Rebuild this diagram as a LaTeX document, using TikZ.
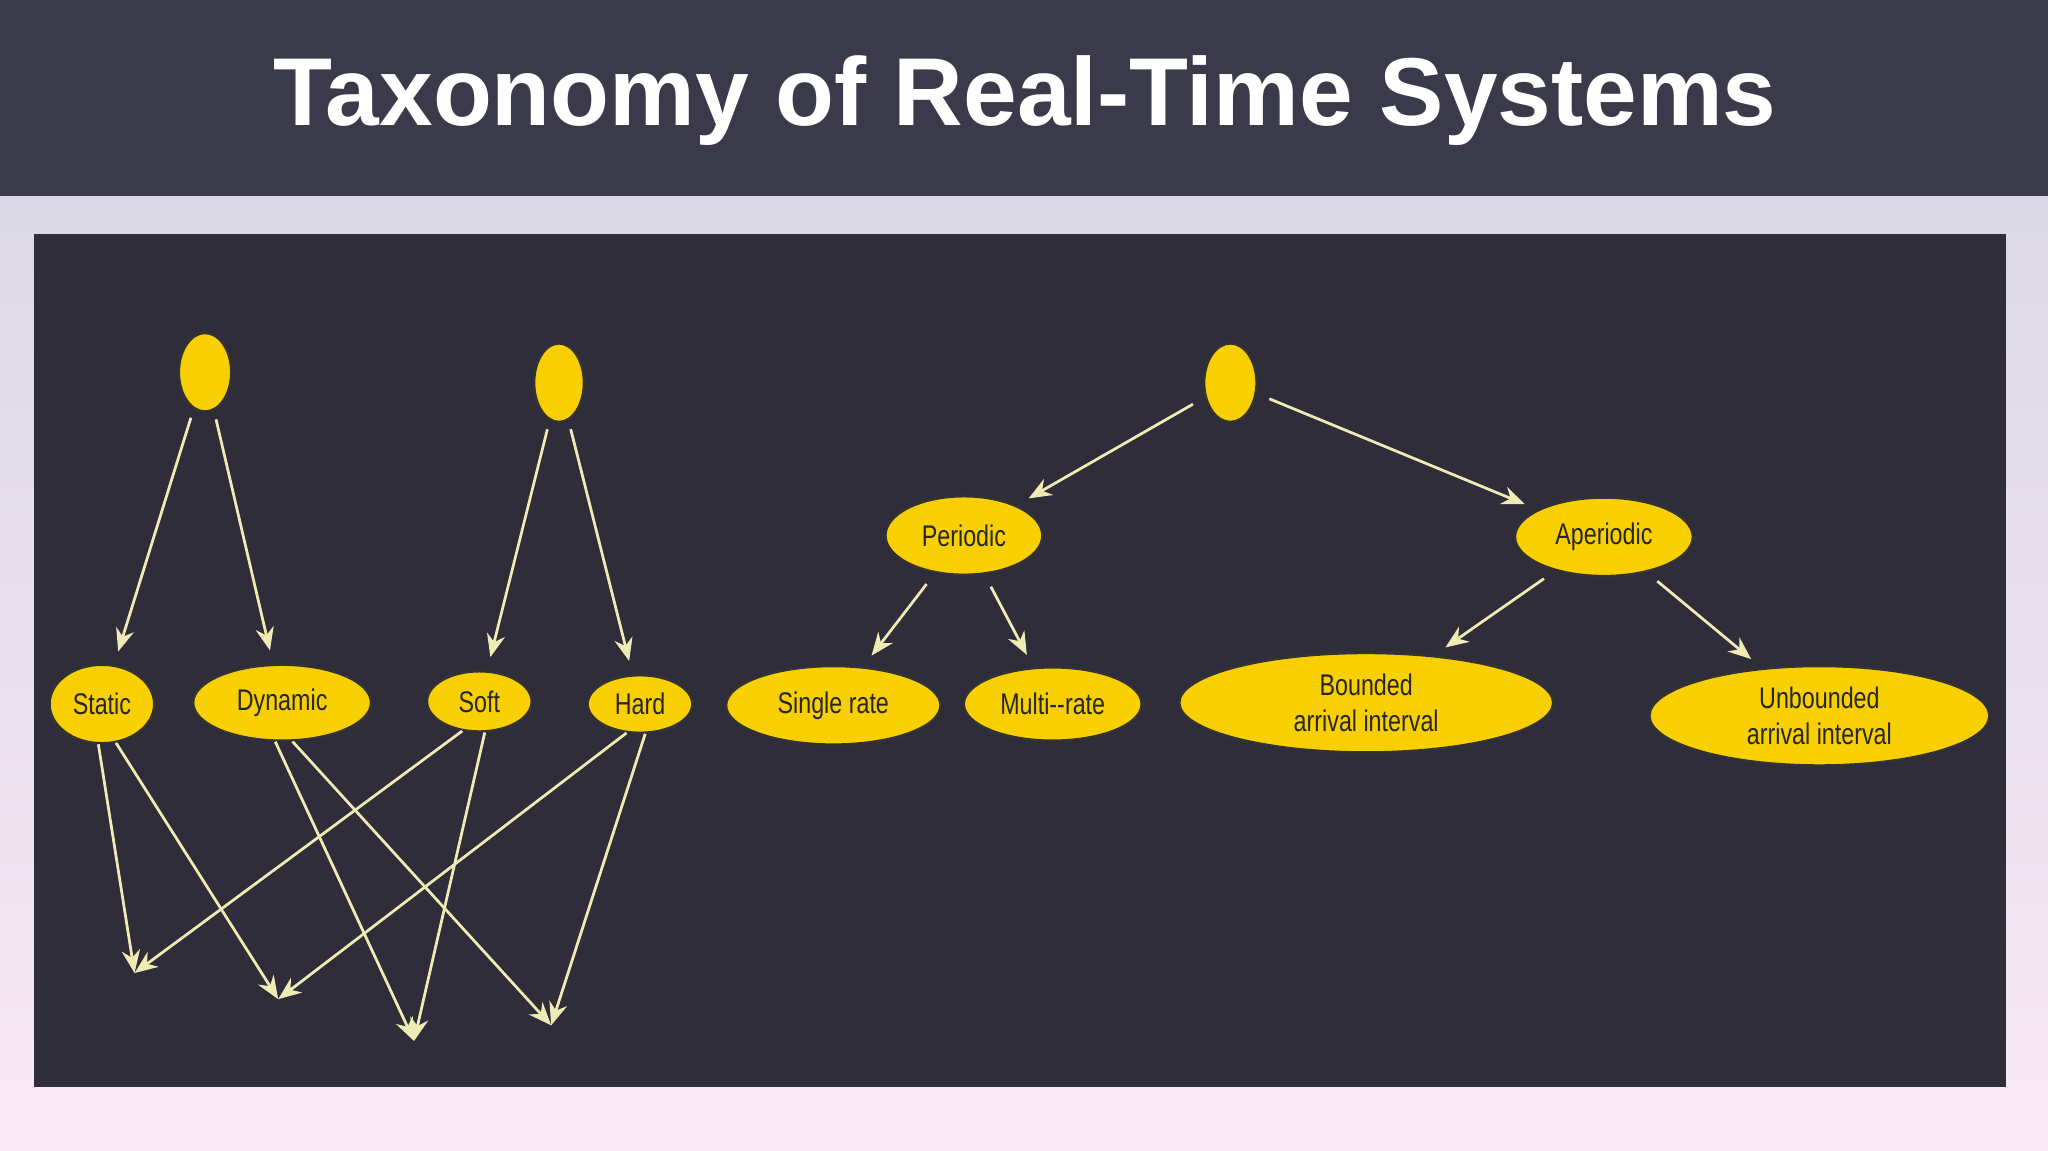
\documentclass[tikz,border=0pt]{standalone}
\usepackage{fontspec}
\setmainfont{Liberation Sans}
\newfontfamily\narrowfont{Liberation Sans}[FakeStretch=0.78]
\usetikzlibrary{shapes.geometric,arrows.meta}
\definecolor{barc}{HTML}{3B3A4A}
\definecolor{panelc}{HTML}{2E2D39}
\definecolor{yel}{HTML}{F8CF00}
\definecolor{arr}{HTML}{EEEBB4}
\tikzset{
  ell/.style={ellipse,fill=yel,draw=black!80,line width=0.5pt,inner sep=0pt,
     font=\narrowfont\fontsize{6.5}{8}\selectfont,align=center,text=black!85},
  con/.style={draw=arr,line width=0.6pt,-{Stealth[length=5pt,width=4pt,open,fill=arr]}}
}
\begin{document}
\begin{tikzpicture}[x=0.01cm,y=-0.01cm]
\useasboundingbox (0,0) rectangle (1568,881);
\shade[top color={rgb,255:red,218;green,216;blue,228},bottom color={rgb,255:red,250;green,232;blue,246}] (0,150) rectangle (1568,881);
\fill[barc] (0,0) rectangle (1568,150);
\node[text=white,font=\bfseries\fontsize{21}{25}\selectfont] (title) at (785,77) {Taxonomy of Real-Time Systems};
\fill[panelc] (26,179) rectangle (1536,832);
% nodes
\node[ell,minimum width=0.40cm,minimum height=0.60cm] (r1) at (157,285) {};
\node[ell,minimum width=0.38cm,minimum height=0.60cm] (r2) at (428,293) {};
\node[ell,minimum width=0.40cm,minimum height=0.60cm] (r3) at (942,293) {};
\node[ell,minimum width=0.80cm,minimum height=0.60cm] (st) at (78,539) {Static};
\node[ell,minimum width=1.36cm,minimum height=0.58cm] (dy) at (216,538) {Dynamic};
\node[ell,minimum width=0.80cm,minimum height=0.46cm] (so) at (367,537) {Soft};
\node[ell,minimum width=0.80cm,minimum height=0.44cm] (ha) at (490,539) {Hard};
\node[ell,minimum width=1.20cm,minimum height=0.60cm] (pe) at (738,410) {Periodic};
\node[ell,minimum width=1.36cm,minimum height=0.60cm] (ap) at (1228,411) {Aperiodic};
\node[ell,minimum width=1.64cm,minimum height=0.60cm] (si) at (638,540) {Single rate};
\node[ell,minimum width=1.36cm,minimum height=0.56cm] (mu) at (806,539) {Multi--rate};
\node[ell,minimum width=2.86cm,minimum height=0.76cm] (bo) at (1046,538) {Bounded\\arrival interval};
\node[ell,minimum width=2.60cm,minimum height=0.76cm] (ub) at (1393,548) {Unbounded\\arrival interval};
% free ends
\coordinate (p1) at (103,745);
\coordinate (p2) at (213,765);
\coordinate (p3) at (317,797);
\coordinate (p4) at (422,785);
% tree arrows
\draw[con,shorten <=2pt,shorten >=3pt] (r1) -- (st);
\draw[con,shorten <=2pt,shorten >=3pt] (r1) -- (dy);
\draw[con,shorten <=2pt,shorten >=3pt] (r2) -- (so);
\draw[con,shorten <=2pt,shorten >=3pt] (r2) -- (ha);
\draw[con,shorten <=3pt,shorten >=3pt] (r3) -- (pe);
\draw[con,shorten <=3pt,shorten >=3pt] (r3) -- (ap);
\draw[con,shorten <=3pt,shorten >=3pt] (pe) -- (si);
\draw[con,shorten <=3pt,shorten >=3pt] (pe) -- (mu);
\draw[con,shorten <=3pt,shorten >=3pt] (ap) -- (bo);
\draw[con,shorten <=3pt,shorten >=3pt] (ap) -- (ub);
% lower arrows
\draw[con] (st.-95) -- (p1);
\draw[con] (st.-70) -- (p2);
\draw[con] (dy.-100) -- (p3);
\draw[con] (dy.-75) -- (p4);
\draw[con] (so.-120) -- (p1);
\draw[con] (so.-80) -- (p3);
\draw[con] (ha.-115) -- (p2);
\draw[con] (ha.-80) -- (p4);
\end{tikzpicture}
\end{document}
